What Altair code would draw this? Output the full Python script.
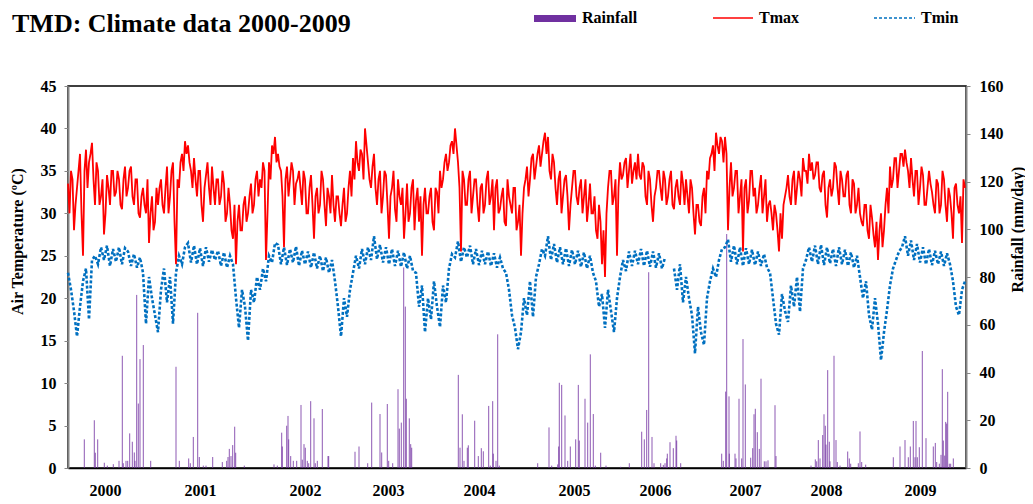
import altair as alt
import pandas as pd

# ---------------- data ----------------
# Daily records shown as a sampled series: Tmax read at record 3*i and 3*i+1.5,
# Tmin read at record 3*i
tmax = [
    33.5, 35, 28, 33, 37, 25, 37.5, 36, 38.3, 31,
    35, 32, 27.5, 34.5, 31, 35, 32.5, 34, 30.5, 35.5,
    33, 35.5, 31, 34, 29.5, 33, 30, 26.5, 32, 29,
    31, 34, 30, 35.5, 32, 36, 24, 33, 37, 38.5,
    38, 35, 36.5, 32, 35, 29, 34.5, 33, 35.5, 31,
    34, 32, 33.5, 30, 31, 27, 24, 31, 28, 32,
    30, 33.5, 31, 35, 34, 36, 24.5, 36, 38, 39,
    37, 35, 26, 35.5, 34, 35, 33.5, 35, 31, 34,
    30, 34.5, 27, 33, 31, 34, 28.5, 32, 34.5, 29,
    32, 28.5, 33, 30, 35, 36.5, 38.5, 35, 37, 40,
    36, 33, 37, 31, 35, 32, 34.5, 27, 33, 30.5,
    34, 31, 27, 33.5, 30, 34, 31.5, 29, 25, 33,
    30, 33, 28, 32.5, 35, 34, 37, 36, 38.5, 40,
    36, 25.5, 34, 31, 35, 32, 34, 29, 33.5, 31,
    35, 32, 28, 34, 30.5, 33, 28.5, 32, 30, 33,
    29, 25, 33, 35.5, 34, 37, 35.5, 38, 37, 39.5,
    39, 34, 36, 31, 35, 32, 34.5, 28, 33, 35,
    31, 34, 32, 29, 33.5, 30, 28, 31, 24, 22.5,
    33, 35, 32, 25, 36, 34.5, 36.5, 35, 33.5, 36,
    37, 34, 35.5, 31, 34, 29, 33, 35, 31.5, 34,
    32, 35, 30.5, 34, 31, 33.5, 34, 30, 33, 27.5,
    31, 28.5, 33, 35, 36.5, 38, 39.5, 37, 38.5, 39,
    28, 36, 33, 35, 32, 25.5, 34, 31.5, 35, 33,
    31, 34.5, 32, 29, 31.5, 28, 30, 25.5, 27, 32,
    34.5, 31, 35, 33, 34, 36.5, 35, 37, 36, 34.5,
    36, 32.5, 35, 29.5, 34, 33, 35.5, 31, 34, 32,
    35, 30, 33.5, 31, 30, 28.5, 31, 27, 29.5, 26,
    24.5, 30, 28, 33, 35.5, 34, 36.5, 35, 37, 37.5,
    35, 36.5, 32, 35, 33, 34.5, 31, 35, 32.5, 30,
    33.5, 31, 34, 29, 32, 27, 33.5, 30, 26.5, 33,
]

tmax_mid = [
    30, 34, 31, 35, 30, 35, 33, 37, 34, 36,
    31, 34, 30, 33, 35, 32, 35, 31, 34, 32,
    35, 32, 34, 30, 32, 31, 34, 30, 28, 33,
    33, 31, 33, 30, 35, 29, 34, 36, 35, 37,
    36, 33, 34, 35, 31, 33, 36, 31, 33, 34,
    31, 35, 29, 33, 28, 31, 29, 28, 31, 29,
    32, 30, 34, 32, 33, 35, 30, 34, 37, 36,
    35.5, 32, 34, 32, 36, 31, 34, 33, 35, 30,
    33, 31, 32, 30, 35, 31, 33, 30, 31, 32,
    30, 31, 29, 33, 32, 34, 36, 37.5, 34, 38,
    34, 35.5, 33, 34, 30, 35, 31, 32, 35, 29,
    32, 33, 30, 29, 33, 28, 33, 32, 31, 30,
    32, 29, 33, 30, 33, 36, 35, 38, 37, 38,
    33, 35, 31, 34, 30, 34, 31, 33, 30, 34,
    31, 34, 33, 30, 32, 29, 34, 31, 33, 28,
    31, 30, 34, 32, 36.5, 34, 37, 35.5, 38.5, 37,
    35, 37, 33, 34, 30, 34, 32, 31, 35, 32,
    33, 30, 34, 31, 30, 32, 27, 29, 28, 30,
    35, 31, 34, 33, 34, 36, 33, 37, 35, 34,
    34.5, 36, 32, 35, 31, 32, 35, 33, 35, 31,
    34, 31, 33, 32, 35, 31, 32, 34, 30, 31,
    29, 32, 30, 34, 37, 35, 38, 39, 36, 37,
    33, 32, 35, 30, 34, 33, 30, 35, 32, 30,
    33, 30, 34, 31, 30, 31, 28, 30, 31, 33,
    32, 34, 31, 35, 32, 35, 33.5, 35, 34, 36,
    33, 34.5, 31, 33, 32, 36, 33, 35, 32, 34.5,
    31, 34, 30, 33, 29, 31, 28, 31, 27.5, 29,
    28, 26, 31, 30, 33, 36.5, 33, 37, 35.5, 36,
    33, 34, 35, 31, 35.5, 31, 33, 33.5, 31, 34,
    30, 35, 31, 33, 30, 33, 31, 32, 34,
]

tmin = [
    23, 21, 18.5, 15.5, 19, 22, 23.5, 17.5, 24.5, 25,
    24, 26, 24.5, 26.2, 23.8, 25.8, 24.3, 26, 24, 25.9,
    25.5, 23.8, 25.2, 23.6, 24.8, 23, 17, 22.5, 20, 18,
    16, 21, 23.5, 19.5, 22.5, 17, 23, 25, 24, 26,
    26.5, 24.2, 26.2, 24, 25.9, 23.8, 26, 24.3, 25.7, 24.5,
    25.6, 23.8, 25.4, 23.6, 25, 24, 20, 16.5, 21, 19,
    15, 21, 19.5, 22.5, 21, 23.5, 22, 25, 24.2, 26.5,
    26.3, 24, 26, 23.9, 25.8, 24.2, 26.1, 23.8, 25.6, 24,
    25.5, 23.6, 25.4, 23.5, 25, 23.2, 24.8, 23, 24.5, 22,
    19, 15.5, 20, 17.8, 21, 23, 25, 23.5, 25.8, 24,
    26, 24.5, 27.3, 24.6, 26.3, 24.2, 26, 24, 25.8, 23.8,
    25.6, 23.7, 25.4, 23.5, 25, 23.2, 23, 19, 21.5, 16,
    20, 17.5, 22, 19, 16.6, 21.5, 19.5, 23.5, 25.2, 24.8,
    26.7, 24.3, 26, 24.8, 26.2, 24, 25.8, 23.9, 25.6, 24,
    25.5, 23.8, 25.3, 23.6, 24.8, 23.5, 23, 21, 18, 16.5,
    14, 16, 20, 18, 22, 17.8, 22.5, 24, 25.8, 25,
    27.3, 24.5, 26.4, 24.2, 26, 24, 25.9, 23.8, 25.7, 24,
    25.6, 23.7, 25.4, 23.5, 25, 23, 22, 19, 20.5, 16.5,
    21, 18.5, 16, 20, 22.5, 24.5, 23.2, 25.5, 23.8, 25.6,
    24, 25.8, 23.8, 25.6, 23.7, 25.5, 23.6, 25.3, 23.5, 24.8,
    None, None, 23.5, 21, 24, 19.5, 22.5, 20, 18, 13.5,
    19, 16, 14.5, 20, 22, 23.5, 22.5, 24.5, 25.8, 26,
    26.9, 24.3, 26.2, 24, 26, 23.8, 25.9, 24, 25.7, 23.9,
    25.5, 23.8, 25.2, 23.6, 23, 20, 17, 15.7, 20.5, 18.5,
    17.2, 21.5, 19, 22.5, 18.4, 23.5, 24.5, 26, 24.3, 26.2,
    24, 26.3, 23.9, 26, 24.1, 25.8, 23.8, 26, 24, 25.7,
    23.8, 25.4, 23.6, 25, 22.5, 20, 22, 18, 16.3, 20,
    17, 12.7, 16, 18.6, 21.5, 23.5, 24.5, 25.5, 26, 27.3,
    25, 26.8, 24.5, 26.4, 24.2, 26, 24, 25.8, 23.9, 25.6,
    24, 25.5, 23.8, 25.3, 24, 22, 19, 18, 21, 22,
]

# rainfall events: record position and amount (mm/day)
rain_obs = [
    16.3, 26.3, 27.3, 29.7, 36.3, 39.3, 45.3, 51, 54.3, 55.3, 58, 59.7, 61.7, 64.3, 66.3, 67, 68.7, 70.3, 72, 75.3, 82.7,
    108, 111.3, 120.7, 122.3, 125.3, 129.7, 131.3, 135.3, 138, 144.7, 154.3, 158.7, 160, 161.3, 163, 164.7, 166.7, 167.7, 176.3,
    206, 209.3, 213.7, 214.3, 218.7, 220, 220.7, 222.7, 225.3, 228.7, 233, 234.3, 236, 237.3, 239.3, 240.7, 242.7, 246, 247.3, 249.3, 254.3, 260, 260.7,
    287, 291, 299.7, 303.7, 312, 313.7, 319.3, 320.7, 324.7, 330, 331.3, 333.3, 335.7, 337.3, 338.3, 341.3, 342.7, 343.7,
    390.3, 392, 394.3, 396, 399.3, 400.3, 406.7, 410.3, 413.3, 415.3, 420.7, 422.3, 424.7, 425.3, 428, 429.7, 431.3,
    469.7, 481, 483.7, 489.7, 490.7, 491.3, 493.7, 497, 499.7, 502.3, 507.7, 510.3, 511.3, 517, 519.7, 522.3, 525.3, 527.3, 532.7, 538,
    552.7, 561.3, 573.7, 576.3, 578.7, 580.7, 584, 586, 592.7, 595.3, 597, 598.7, 599.3, 602, 605.3, 608, 608.7, 612.7,
    653.7, 655.3, 657.7, 658.7, 661, 661.3, 667, 668, 671, 673.7, 675, 677.3, 682.7, 684.7, 686, 687.3, 689.3, 691.3, 693, 696.3, 698, 700, 707, 708,
    743, 747.3, 748.7, 750.3, 752, 754.7, 756, 757.3, 758, 759.7, 761.3, 762, 766, 768, 769.3, 772, 779.7, 781.3, 782.7, 790.3, 792, 793.7, 797.7,
    825.3, 832, 837, 840.3, 842.3, 845.3, 847, 848, 849.3, 851.3, 854.3, 858, 865.3, 867.3, 868.7, 871.3, 873, 874.3, 875.3, 876.7, 877.7, 878.7, 879.7, 881.3, 882.7, 885.3,
]
rain_mm = [
    12, 20, 6.4, 12, 2.2, 1, 1.6, 3, 47, 2, 3, 3, 14.5, 11, 6.5, 3, 72.5, 27, 45.6, 51.5, 3,
    42.4, 3, 4, 2, 13, 65, 4.6, 1, 1, 4.6, 2.5, 3, 4.6, 8, 5, 9.6, 17.3, 6.4, 1,
    1.5, 1, 14.8, 9, 17.7, 21.8, 12, 5, 3, 3, 26.4, 3.5, 10, 8.5, 3, 2, 28, 20.8, 2, 3, 24.7, 5, 5,
    6.8, 9, 2, 27.4, 22.6, 6.5, 26.8, 3, 2, 33, 16.5, 19, 84, 67.6, 29, 20.8, 10, 8.5,
    39, 8.5, 22.5, 3, 8.5, 9.5, 19.8, 5, 8.3, 7, 26, 1, 28, 6, 3, 56, 1,
    2, 17, 1, 1.5, 9, 35.7, 34.8, 22, 3, 9, 12, 34.8, 11.5, 29, 19, 47.6, 22.6, 1, 6.4, 1,
    0.5, 2, 15.2, 12, 24.3, 82, 13, 2, 2, 1.3, 2, 4, 6, 10.8, 8.3, 13.5, 11.5, 2,
    6, 3, 32, 98, 30, 6, 6, 4, 29, 4, 54, 35, 4.3, 8.3, 22.5, 24.8, 15, 8, 37.4, 2.8, 2.8, 3.2, 26.3, 5,
    1, 3.6, 2.8, 11.7, 4, 13.8, 22.5, 17.7, 9.8, 41, 11, 2.8, 47, 11.7, 2.5, 1, 6.9, 4, 1.8, 2, 15.3, 2.5, 1.4,
    4.5, 9, 11.7, 4.5, 9, 19.7, 4.5, 19.7, 4.5, 8.7, 49, 12.5, 9, 10.5, 2.5, 1.8, 5.5, 41.4, 11.5, 5.2, 19.3, 18.6, 31.9, 1.8, 1.8, 4,
]

year_labels = ["2000", "2001", "2002", "2003", "2004", "2005", "2006", "2007", "2008", "2009"]
year_obs = [37, 132, 237, 320, 411, 506, 587, 677, 758, 852]

temp_ticks = [0, 5, 10, 15, 20, 25, 30, 35, 40, 45]
rain_ticks = [0, 20, 40, 60, 80, 100, 120, 140, 160]

# ---------------- frames ----------------
STEP = 3
obs = [i * STEP for i in range(len(tmax))]
obs_mid = [i * STEP + STEP / 2 for i in range(len(tmax_mid))]
tmax_df = pd.DataFrame({"obs": obs + obs_mid, "Tmax": tmax + tmax_mid}).sort_values("obs")

rows = []
seg = 0
for o, v in zip(obs, tmin):
    if v is None:
        seg += 1
        continue
    rows.append({"obs": o, "Tmin": v, "seg": seg})
tmin_df = pd.DataFrame(rows)
rain_df = pd.DataFrame({"obs": rain_obs, "mm": rain_mm})

FONT = "Liberation Serif"
W, H = 898, 382

label_expr = "".join(f"datum.value == {v} ? '{l}' : " for v, l in zip(year_obs, year_labels)) + "''"

x_enc = alt.X(
    "obs:Q",
    scale=alt.Scale(domain=[0, W], nice=False, zero=False),
    axis=alt.Axis(
        values=year_obs, labelExpr=label_expr, ticks=False, grid=False,
        domainColor="black", domainWidth=1.5, labelFont=FONT, labelFontWeight="bold",
        labelFontSize=16, labelPadding=14, labelColor="black", title=None,
    ),
)

temp_scale = alt.Scale(domain=[0, 45], nice=False, zero=True)

rain = alt.Chart(rain_df).mark_rule(color="#7030A0", strokeWidth=1, opacity=0.8).encode(
    x=x_enc,
    y=alt.Y(
        "mm:Q",
        scale=alt.Scale(domain=[0, 160], nice=False),
        axis=alt.Axis(
            orient="right", values=rain_ticks, grid=False, domainColor="#868686", domainWidth=2,
            tickColor="#868686", tickSize=4, labelPadding=9, labelFont=FONT, labelFontWeight="bold",
            labelFontSize=16, labelColor="black", title="Rainfall (mm/day)", titleFont=FONT,
            titleFontSize=16, titleFontWeight="bold", titleColor="black", titleAngle=270,
            titleX=51, titleY=143, titleAlign="center", titleBaseline="middle",
        ),
    ),
    y2=alt.datum(0),
)

tmin_line = alt.Chart(tmin_df).mark_line(
    color="#0070C0", strokeWidth=2.6, strokeDash=[3, 2]
).encode(
    x=alt.X("obs:Q"),
    y=alt.Y(
        "Tmin:Q",
        scale=temp_scale,
        axis=alt.Axis(
            orient="left", values=temp_ticks, grid=False, domainColor="#868686", domainWidth=2,
            tickColor="#868686", tickSize=4, labelPadding=8, labelFont=FONT, labelFontWeight="bold",
            labelFontSize=16, labelColor="black", title="Air Temperature (ºC)", titleFont=FONT,
            titleFontSize=16, titleFontWeight="bold", titleColor="black", titleAngle=270,
            titleX=-51, titleY=155, titleAlign="center", titleBaseline="middle",
        ),
    ),
    detail="seg:N",
)

tmax_line = alt.Chart(tmax_df).mark_line(color="#FF0000", strokeWidth=1.8).encode(
    x=alt.X("obs:Q"),
    y=alt.Y("Tmax:Q", scale=temp_scale),
)

temps = alt.layer(tmin_line, tmax_line)

# ---------------- title and legend ----------------
one = pd.DataFrame({"k": [0]})
title = alt.Chart(one).mark_text(
    text="TMD: Climate data 2000-2009", align="left", baseline="alphabetic",
    font=FONT, fontSize=26, fontWeight="bold", color="black",
).encode(x=alt.value(-56), y=alt.value(-54))

leg_rain = alt.Chart(one).mark_rect(color="#7030A0").encode(
    x=alt.value(466), x2=alt.value(508), y=alt.value(-71), y2=alt.value(-64)
)
leg_tmax = alt.Chart(one).mark_rule(color="#FF0000", strokeWidth=1.5).encode(
    x=alt.value(645), x2=alt.value(685), y=alt.value(-68)
)
leg_tmin = alt.Chart(one).mark_rule(color="#0070C0", strokeWidth=1.5, strokeDash=[3, 2]).encode(
    x=alt.value(806), x2=alt.value(847), y=alt.value(-68)
)
leg_texts = []
for txt, xv in [("Rainfall", 514), ("Tmax", 691), ("Tmin", 853)]:
    leg_texts.append(
        alt.Chart(one).mark_text(
            text=txt, align="left", baseline="alphabetic", font=FONT, fontSize=16,
            fontWeight="bold", color="black",
        ).encode(x=alt.value(xv), y=alt.value(-63))
    )

chart = alt.layer(
    rain, temps, title, leg_rain, leg_tmax, leg_tmin, *leg_texts
).resolve_scale(y="independent").properties(
    width=W, height=H,
    autosize=alt.AutoSizeParams(type="none"),
    padding={"left": 60, "top": 78, "right": 59, "bottom": 36},
    background="white",
).configure_view(stroke="black", strokeWidth=1.5)

chart.save("out.html", embed_options={"renderer": "svg", "actions": False})
